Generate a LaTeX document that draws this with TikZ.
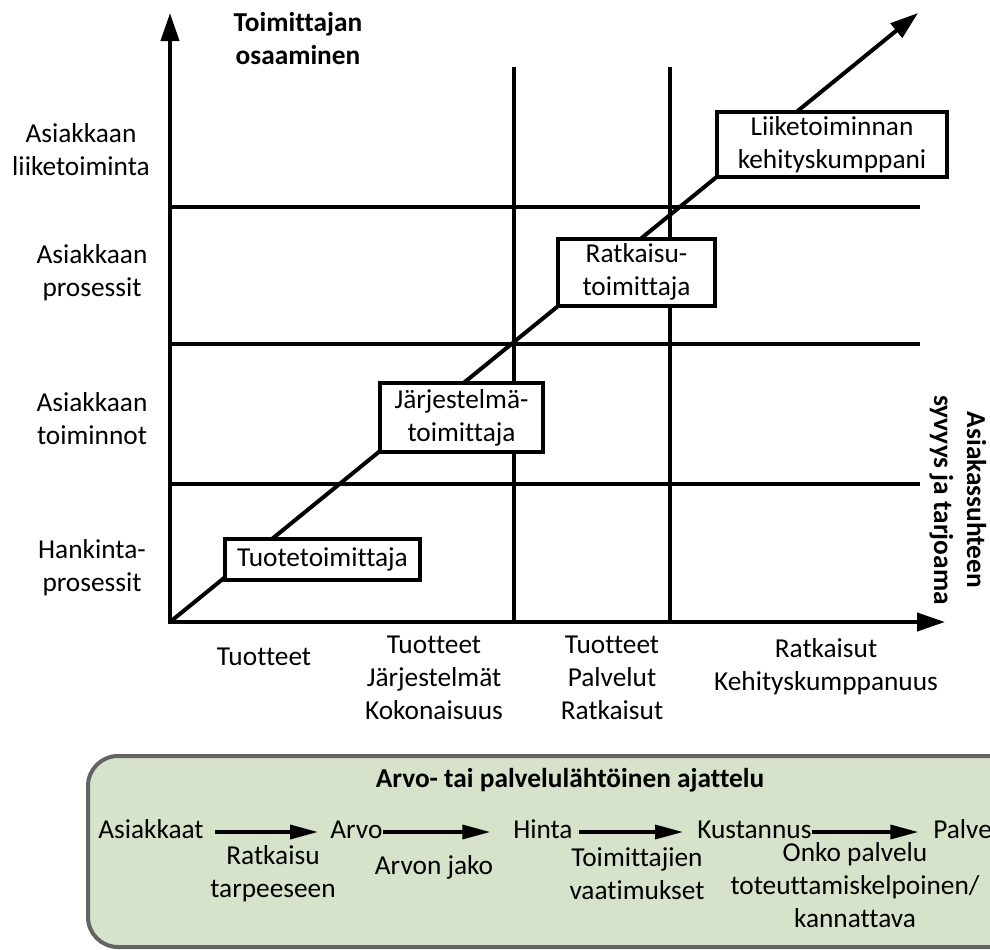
\documentclass[tikz,border=0pt]{standalone}
\usepackage{fontspec}
\setmainfont{Carlito}[Ligatures=NoCommon]
\usetikzlibrary{arrows.meta,calc}
\definecolor{panelfill}{HTML}{D6E2C9}
\definecolor{panelrule}{HTML}{646464}
\begin{document}
\begin{tikzpicture}[x=0.75pt,y=-0.75pt,
  every node/.style={font=\fontsize{20.5}{24.75}\selectfont, align=center, inner sep=0pt},
  rule/.style={line width=3pt},
  axes/.style={line width=3pt, line join=miter,
    {Triangle[length=21pt,width=13.5pt]}-{Triangle[length=21pt,width=13.5pt]}},
  growth/.style={line width=3pt,-{Triangle[length=21pt,width=13.5pt]}},
  stagebox/.style={draw, line width=3pt, fill=white, inner sep=0pt},
  flow/.style={line width=2.6pt,-{Triangle[length=21pt,width=10.5pt]}},
  heading/.style={font=\fontsize{20.5}{24.75}\selectfont\bfseries}
]
\useasboundingbox (0,0) rectangle (990,950);

% axes and grid
\coordinate (O) at (170,622);
\coordinate (ytip) at (170,13);
\coordinate (xtip) at (945,622);
\coordinate (dtip) at (918,13);
\coordinate (v1t) at (514,67);  \coordinate (v1b) at (514,622);
\coordinate (v2t) at (670,67);  \coordinate (v2b) at (670,622);
\coordinate (h1l) at (170,207); \coordinate (h1r) at (920,207);
\coordinate (h2l) at (170,344); \coordinate (h2r) at (920,344);
\coordinate (h3l) at (170,484); \coordinate (h3r) at (920,484);

\draw[rule] (h1l) -- (h1r);
\draw[rule] (h2l) -- (h2r);
\draw[rule] (h3l) -- (h3r);
\draw[rule] (v1t) -- (v1b);
\draw[rule] (v2t) -- (v2b);
\draw[axes] (ytip) -- (O) -- (xtip);
\draw[growth] (O) -- (dtip);

% supplier roles along the diagonal
\node[stagebox, minimum width=146.25pt, minimum height=30.75pt] (s1) at (322.5,559.5) {Tuotetoimittaja};
\node[stagebox, minimum width=122.25pt, minimum height=51.75pt] (s2) at (461.5,417.5) {Järjestelmä-\\toimittaja};
\node[stagebox, minimum width=117.75pt, minimum height=50.25pt] (s3) at (636.5,272) {Ratkaisu-\\toimittaja};
\node[stagebox, minimum width=172.5pt, minimum height=48.75pt] (s4) at (832,144.5) {Liiketoiminnan\\kehityskumppani};

% vertical axis levels
\node (l1) at (81,150) {Asiakkaan\\liiketoiminta};
\node (l2) at (92,273) {Asiakkaan\\prosessit};
\node (l3) at (92,419) {Asiakkaan\\toiminnot};
\node (l4) at (92,568) {Hankinta-\\prosessit};
\node[heading] (ytitle) at (298,39) {Toimittajan\\osaaminen};

% horizontal axis levels
\node (c1) at (264,657) {Tuotteet};
\node (c2) at (434,678) {Tuotteet\\Järjestelmät\\Kokonaisuus};
\node (c3) at (612,678) {Tuotteet\\Palvelut\\Ratkaisut};
\node (c4) at (826,667) {Ratkaisut\\Kehityskumppanuus};
\node[heading, rotate=-90] (xtitle) at (958,500) {Asiakassuhteen\\syvyys ja tarjoama};

% value chain panel
\begin{scope}
\clip (0,0) rectangle (990,950);
\draw[line width=3pt, draw=panelrule, fill=panelfill, rounded corners=22.5pt] (88,756) rectangle (1060,947);
\node[heading] (ptitle) at (570,780) {Arvo- tai palvelulähtöinen ajattelu};
\node[anchor=base west] (f1) at (98,838) {Asiakkaat};
\node[anchor=base west] (f2) at (330,838) {Arvo};
\node[anchor=base west] (f3) at (513,838) {Hinta};
\node[anchor=base west] (f4) at (697,838) {Kustannus};
\node[anchor=base west] (f5) at (933,838) {Palvelu};
\draw[flow] ([xshift=8.25pt,yshift=4.5pt]f1.base east) -- ([xshift=-9pt,yshift=4.5pt]f2.base west);
\draw[flow] ([yshift=4.5pt]f2.base east) -- ([xshift=-17pt,yshift=4.5pt]f3.base west);
\draw[flow] ([xshift=4.5pt,yshift=4.5pt]f3.base east) -- ([xshift=-10.5pt,yshift=4.5pt]f4.base west);
\draw[flow] ([yshift=4.5pt]f4.base east) -- ([xshift=-11pt,yshift=4.5pt]f5.base west);
\node (g1) at (273,874) {Ratkaisu\\tarpeeseen};
\node (g2) at (434,867) {Arvon jako};
\node (g3) at (637,874) {Toimittajien\\vaatimukset};
\node (g4) at (855,885) {Onko palvelu\\toteuttamiskelpoinen/\\kannattava};
\end{scope}
\end{tikzpicture}
\end{document}
